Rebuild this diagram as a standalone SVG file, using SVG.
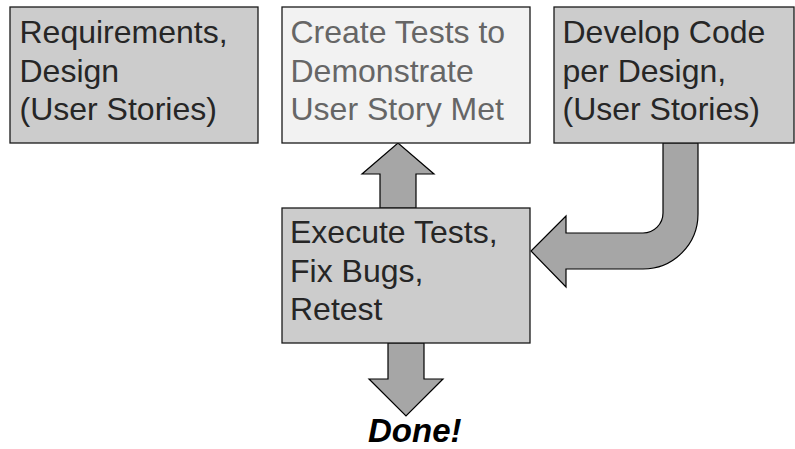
<svg xmlns="http://www.w3.org/2000/svg" width="795" height="449" viewBox="0 0 795 449">
<style>
.box{fill:#cccccc;stroke:#1a1a1a;stroke-width:1.3}
.light{fill:#f2f2f2}
.arrow{fill:#a6a6a6;stroke:#000;stroke-width:1.2;stroke-linejoin:miter}
.t{font-family:"Liberation Sans",Arial,sans-serif;font-size:32px;fill:#262626}
.tg{fill:#666666}
.done{font-family:"Liberation Sans",Arial,sans-serif;font-size:33px;font-weight:bold;font-style:italic;fill:#000}
</style>
<rect width="795" height="449" fill="#fff"/>
<g id="connectors">
<path class="arrow" d="M380,208 L380,174 L362,174 L398,143 L434,174 L416,174 L416,208 Z"/>
<path class="arrow" d="M663,143 L663,213 A20,20 0 0 1 643,233 L566,233 L566,216 L531,251 L566,287 L566,269 L643,269 A55,55 0 0 0 698,214 L698,143 Z"/>
<path class="arrow" d="M388,343 L388,379 L369,379 L406,416 L443,379 L424,379 L424,343 Z"/>
</g>
<g id="requirements">
<rect class="box" x="10" y="7" width="248" height="136"/>
<text class="t" x="19.5" y="43">Requirements,</text>
<text class="t" x="19.5" y="81.5">Design</text>
<text class="t" x="19.5" y="120">(User Stories)</text>
</g>
<g id="create-tests">
<rect class="box light" x="282" y="7" width="248" height="136"/>
<text class="t tg" x="290.5" y="43">Create Tests to</text>
<text class="t tg" x="290.5" y="81.5">Demonstrate</text>
<text class="t tg" x="290.5" y="120">User Story Met</text>
</g>
<g id="develop-code">
<rect class="box" x="554" y="7" width="240" height="136"/>
<text class="t" x="562.5" y="43">Develop Code</text>
<text class="t" x="562.5" y="81.5">per Design,</text>
<text class="t" x="562.5" y="120">(User Stories)</text>
</g>
<g id="execute-tests">
<rect class="box" x="282" y="208" width="248" height="135"/>
<text class="t" x="290" y="243">Execute Tests,</text>
<text class="t" x="290" y="281.5">Fix Bugs,</text>
<text class="t" x="290" y="320">Retest</text>
</g>
<g id="done">
<text class="done" x="368" y="442">Done!</text>
</g>
</svg>
